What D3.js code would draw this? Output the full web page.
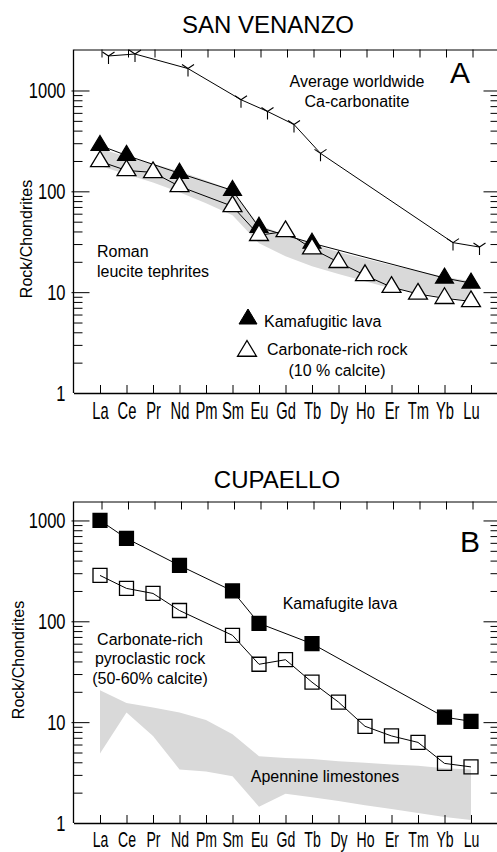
<!DOCTYPE html>
<html>
<head>
<meta charset="utf-8">
<script src="https://cdn.jsdelivr.net/npm/d3@7"></script>
<style>
  html, body { margin: 0; padding: 0; background: #fff; }
  svg { display: block; }
  text { font-family: "Liberation Sans", Arial, Helvetica, sans-serif; fill: #000; }
</style>
</head>
<body>
<svg id="chart" width="497" height="852"></svg>
<script>
// ---------- DATA ----------
const ree = ["La","Ce","Pr","Nd","Pm","Sm","Eu","Gd","Tb","Dy","Ho","Er","Tm","Yb","Lu"];
const yMajorTicks = [1, 10, 100, 1000];

// Panel A: San Venanzo
const carbonatiteA = [2200, 2300, null, 1650, null, 810, 620, 460, 238, null, null, null, null, 31, 28];
const kamafugiticA = [285, 227, null, 151, null, 102, 44, null, 30.6, null, null, null, null, 13.8, 12.3];
const carbRockA    = [198, 161, 154, 112, null, 71, 36.7, 40, 27, 19.8, 14.7, 11.2, 9.6, 8.7, 8.1];
const romanUpperA  = [265, 222, 188, 158, 128, 103, 46, 37, 30, 25, 21.5, 18.5, 16.2, 14.2, 12.8];
const romanLowerA  = [178, 148, 122, 98, 76, 58, 30.5, 22.7, 18.1, 15.1, 12.8, 10.9, 9.8, 8.9, 8.2];

// Panel B: Cupaello
const kamafugiteB  = [1000, 664, null, 358, null, 200, 95.5, null, 60, null, null, null, null, 11.2, 10.2];
const pyroclasticB = [285, 212, 189, 128, null, 72.6, 37.5, 41.6, 24.9, 15.8, 9.1, 7.3, 6.3, 3.9, 3.6];
const apennineUpperB = [20.7, 15.5, 14, 12.5, 10.5, 7.6, 4.6, 4.4, 4.3, 4.1, 3.95, 3.8, 3.7, 3.5, 3.4];
const apennineLowerB = [4.9, 12.5, 7.3, 3.4, 3.25, 2.9, 1.45, 1.95, 1.8, 1.65, 1.5, 1.38, 1.26, 1.15, 1.07];

// ---------- HELPERS ----------
const svg = d3.select("#chart");
const FONT = '"Liberation Sans", Arial, Helvetica, sans-serif';
const x = d3.scaleLinear().domain([-1, ree.length]).range([73.5, 497.5]);
const allTicks = [];
for (let p = 0; p < 3; p++) for (let m = 1; m < 10; m++) allTicks.push(m * Math.pow(10, p));
allTicks.push(1000);

function triPath(s) { return `M0,${-10*s}L${9*s},${5*s}L${-9*s},${5*s}Z`; }
function squarePath(h) { return `M${-h},${-h}H${h}V${h}H${-h}Z`; }
const yMarker = "M0,0V8M0,0L-6,-4M0,0L6,-4";

function drawPanel(cfg) {
  const g = svg.append("g");
  const y = cfg.y;
  const [yBottom, yTop] = y.range();

  // band
  const band = ree.map((d, i) => ({i, hi: cfg.bandUpper[i], lo: cfg.bandLower[i]}));
  g.append("path")
    .attr("d", d3.area().x(d => x(d.i)).y0(d => y(d.lo)).y1(d => y(d.hi))(band))
    .attr("fill", "#d9d9d9");

  // bottom axis
  const bottom = g.append("g").attr("transform", `translate(0,${yBottom})`)
    .call(d3.axisBottom(x).tickValues(d3.range(ree.length)).tickFormat(i => ree[i])
      .tickSizeInner(-8).tickSizeOuter(0).tickPadding(cfg.xPad));
  bottom.select(".domain").attr("stroke-width", 1.3);
  bottom.selectAll("text").attr("font-size", cfg.xFont).attr("font-family", FONT)
    .attr("transform", "scale(0.64,1)");

  // top axis (ticks only)
  const top = g.append("g").attr("transform", `translate(0,${yTop})`)
    .call(d3.axisTop(x).tickValues(d3.range(ree.length)).tickFormat("")
      .tickSizeInner(-8).tickSizeOuter(0));
  top.selectAll(".tick").attr("transform", d => `translate(${x(d) + 2},0)`);

  // left axis
  const left = g.append("g").attr("transform", `translate(${x(-1)},0)`)
    .call(d3.axisLeft(y).tickValues(allTicks)
      .tickFormat(d => yMajorTicks.includes(d) ? d : "")
      .tickSizeInner(-16).tickSizeOuter(0).tickPadding(8));
  left.select(".domain").attr("d", `M0,${yBottom}V${yTop}`).attr("stroke-width", 1.3);
  left.selectAll(".tick line").attr("x1", d => yMajorTicks.includes(d) ? -2 : 0)
    .attr("x2", d => yMajorTicks.includes(d) ? 16 : 9);
  left.selectAll(".tick").filter(d => d === 1).select("line").remove();
  left.selectAll("text").attr("font-size", 22).attr("font-family", FONT)
    .attr("x", -8 / 0.75).attr("transform", "scale(0.75,1)");

  // right axis
  const right = g.append("g").attr("transform", `translate(${x(ree.length)},0)`)
    .call(d3.axisRight(y).tickValues(allTicks.filter(d => d > 1)).tickFormat("")
      .tickSizeInner(-14).tickSizeOuter(0));
  right.select(".domain").attr("d", `M0,${yBottom}V${yTop}`);
  right.selectAll(".tick line").attr("x2", d => yMajorTicks.includes(d) ? -14 : -7);

  // lines
  const line = d3.line().x(d => x(d.i) + (d.dx || 0)).y(d => y(d.v));
  cfg.series.forEach(s => {
    const pts = s.values.map((v, i) => ({i, v, dx: s.dx || 0})).filter(d => d.v != null);
    g.append("path").attr("d", line(pts)).attr("fill", "none")
      .attr("stroke", "#000").attr("stroke-width", 1);
  });
  cfg.series.forEach(s => {
    const pts = s.values.map((v, i) => ({i, v})).filter(d => d.v != null);
    g.selectAll(null).data(pts).enter().append("path")
      .attr("transform", d => `translate(${x(d.i) + (s.dx || 0)},${y(d.v)})`)
      .attr("d", s.marker)
      .attr("fill", s.fill)
      .attr("stroke", "#000")
      .attr("stroke-width", s.sw || 1.2);
  });

  // Y title
  g.append("text")
    .attr("transform", `translate(${cfg.yTitleX},${cfg.yTitleY}) rotate(-90)`)
    .attr("text-anchor", "middle").attr("font-size", 16).text("Rock/Chondrites");

  // Panel title & letter
  g.append("text").attr("x", cfg.titleX).attr("y", cfg.titleY)
    .attr("text-anchor", "middle").attr("font-size", 24).text(cfg.title);
  g.append("text").attr("x", cfg.letterX).attr("y", cfg.letterY)
    .attr("text-anchor", "middle").attr("font-size", 30).text(cfg.letter);

  cfg.labels.forEach(l => {
    g.append("text").attr("x", l.x).attr("y", l.y)
      .attr("text-anchor", l.anchor || "start").attr("font-size", l.size || 16).text(l.t);
  });
  return g;
}

// ---------- PANEL A ----------
const yA = d3.scaleLog().domain([1, 2550]).range([393, 49.5]);
const gA = drawPanel({
  y: yA, xPad: 10, xFont: 23,
  bandUpper: romanUpperA, bandLower: romanLowerA,
  series: [
    {values: carbonatiteA, marker: yMarker, fill: "none", dx: 8.5, sw: 1.1},
    {values: kamafugiticA, marker: triPath(1), fill: "#000"},
    {values: carbRockA, marker: triPath(1.05), fill: "#fff", sw: 1.3}
  ],
  yTitleX: 32, yTitleY: 239,
  title: "SAN VENANZO", titleX: 268, titleY: 33,
  letter: "A", letterX: 460, letterY: 83,
  labels: [
    {t: "Average worldwide", x: 357, y: 87, anchor: "middle"},
    {t: "Ca-carbonatite", x: 357, y: 107, anchor: "middle"},
    {t: "Roman", x: 97, y: 257},
    {t: "leucite tephrites", x: 97, y: 277},
    {t: "Kamafugitic lava", x: 264, y: 327},
    {t: "Carbonate-rich rock", x: 267, y: 355},
    {t: "(10 % calcite)", x: 337, y: 376, anchor: "middle"}
  ]
});
// legend symbols A
gA.append("path").attr("transform", `translate(248,319)`).attr("d", triPath(1)).attr("fill", "#000").attr("stroke", "#000");
gA.append("path").attr("transform", `translate(247,351)`).attr("d", triPath(1.05)).attr("fill", "#fff").attr("stroke", "#000").attr("stroke-width", 1.3);

// ---------- PANEL B ----------
const yB = d3.scaleLog().domain([1, 1542]).range([823, 501.5]);
drawPanel({
  y: yB, xPad: 8, xFont: 22,
  bandUpper: apennineUpperB, bandLower: apennineLowerB,
  series: [
    {values: kamafugiteB, marker: squarePath(7), fill: "#000"},
    {values: pyroclasticB, marker: squarePath(7), fill: "none", sw: 1.3}
  ],
  yTitleX: 24, yTitleY: 660,
  title: "CUPAELLO", titleX: 277, titleY: 488,
  letter: "B", letterX: 470, letterY: 552,
  labels: [
    {t: "Kamafugite lava", x: 340, y: 609, anchor: "middle"},
    {t: "Carbonate-rich", x: 150, y: 645, anchor: "middle"},
    {t: "pyroclastic rock", x: 150, y: 664, anchor: "middle"},
    {t: "(50-60% calcite)", x: 150, y: 684, anchor: "middle"},
    {t: "Apennine limestones", x: 325, y: 782, anchor: "middle"}
  ]
});
</script>
</body>
</html>
